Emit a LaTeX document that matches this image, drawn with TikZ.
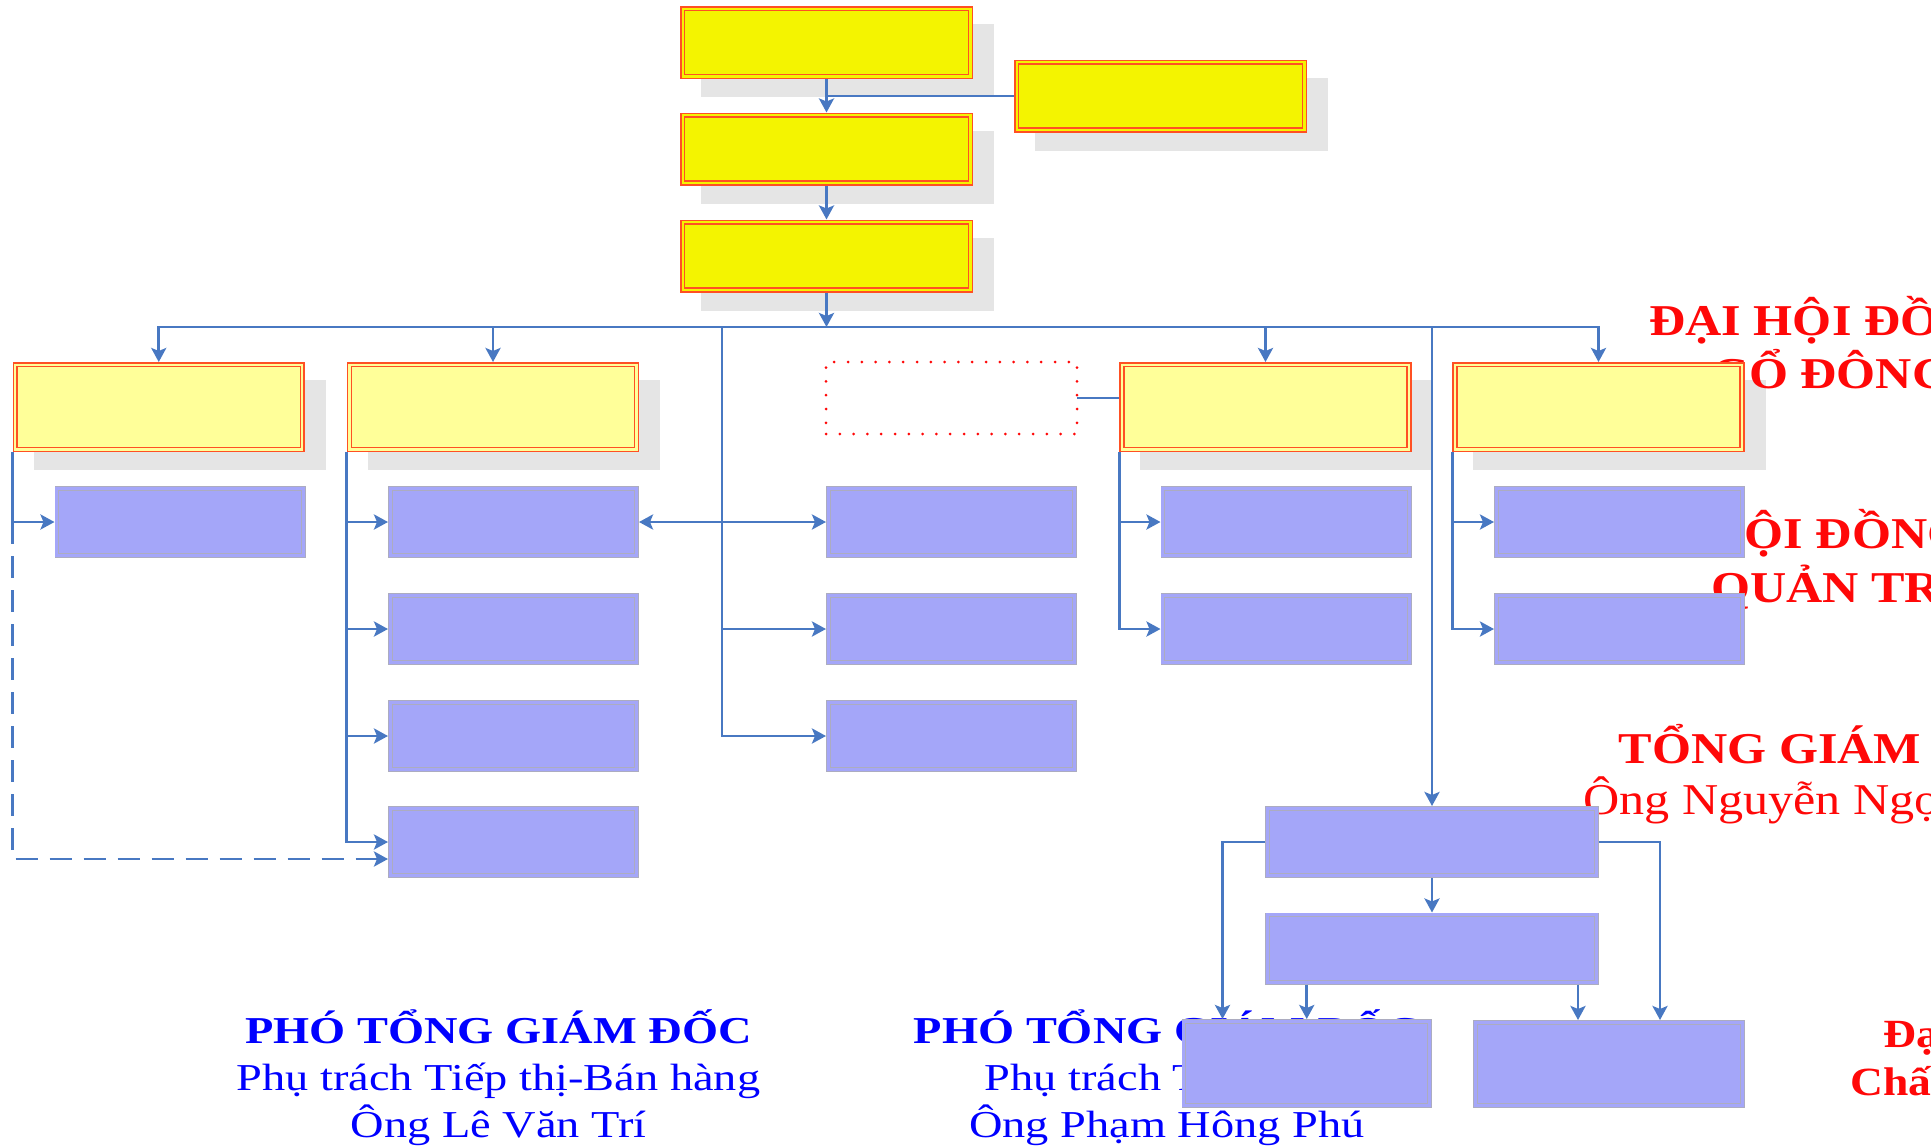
\documentclass[tikz,border=0pt]{standalone}
\usepackage{fontspec}
\setmainfont{Liberation Serif}
\usetikzlibrary{arrows.meta,calc}
\definecolor{byel}{RGB}{244,244,0}
\definecolor{lyel}{RGB}{255,255,153}
\definecolor{bord}{RGB}{255,80,35}
\definecolor{peri}{RGB}{164,166,249}
\definecolor{pgray}{RGB}{172,172,192}
\definecolor{shad}{RGB}{229,229,229}
\definecolor{lnblue}{RGB}{72,120,194}
\definecolor{tblue}{RGB}{0,0,255}
\definecolor{tred}{RGB}{255,8,8}
\pgfdeclarelayer{bg}
\pgfdeclarelayer{txt}
\pgfsetlayers{bg,txt,main}
\begin{document}
\begin{tikzpicture}[x=1pt,y=-1pt,
  >={Stealth[length=14pt,width=15pt,inset=3pt]},
  topbox/.style={draw=bord, line width=1.5pt, double=byel, double distance=2.4pt, fill=byel,
    minimum width=287.6pt, minimum height=67.6pt, inner sep=0pt, outer sep=2.7pt},
  midbox/.style={topbox, double=lyel, fill=lyel, minimum height=84.6pt, minimum width=287pt},
  bluebox/.style={draw=pgray, line width=0.9pt, double=peri, double distance=3pt, fill=peri,
    minimum width=246.2pt, minimum height=67.2pt, inner sep=0pt, outer sep=2.4pt},
  dotbox/.style={draw=tred, line width=3pt, dash pattern=on 0pt off 13.8pt, line cap=round,
    minimum width=251pt, minimum height=72pt, inner sep=0pt, outer sep=0pt},
  connline/.style={draw=lnblue, line width=2.9pt},
  arr/.style={connline, ->},
  dashline/.style={connline, dash pattern=on 22pt off 12pt, ->},
  bluett/.style={text=tblue, font=\fontsize{38pt}{46pt}\selectfont\bfseries, anchor=base, xscale=1.22, inner sep=0pt},
  bluetx/.style={text=tblue, font=\fontsize{38pt}{46pt}\selectfont, anchor=base, xscale=1.22, inner sep=0pt},
  redtt/.style={text=tred, font=\fontsize{44pt}{52pt}\selectfont\bfseries, anchor=base, xscale=1.14, inner sep=0pt},
  redtx/.style={text=tred, font=\fontsize{44pt}{52pt}\selectfont, anchor=base, xscale=1.14, inner sep=0pt}
]
\useasboundingbox (0,0) rectangle (1931,1146);
\clip (0,0) rectangle (1931,1146);

% ---------- boxes ----------
\node[topbox] (T1) at (826.5,42.5) {};
\node[topbox] (TR) at (1160.5,96) {};
\node[topbox] (T2) at (826.5,149) {};
\node[topbox] (T3) at (826.5,256) {};

\node[midbox] (Y1) at (158.75,407) {};
\node[midbox] (Y2) at (493,407) {};
\node[midbox] (Y4) at (1265.5,407) {};
\node[midbox] (Y5) at (1598.5,407) {};
\node[dotbox] (D) at (951.5,398) {};

\node[bluebox] (L1) at (180,522) {};
\node[bluebox] (A1) at (513.5,522) {};
\node[bluebox] (A2) at (513.5,629) {};
\node[bluebox] (A3) at (513.5,736) {};
\node[bluebox] (A4) at (513.5,842) {};
\node[bluebox] (M1) at (951.5,522) {};
\node[bluebox] (M2) at (951.5,629) {};
\node[bluebox] (M3) at (951.5,736) {};
\node[bluebox] (R1) at (1286,522) {};
\node[bluebox] (R2) at (1286,629) {};
\node[bluebox] (S1) at (1619.5,522) {};
\node[bluebox] (S2) at (1619.5,629) {};
\node[bluebox, minimum width=329pt] (G1) at (1432,842) {};
\node[bluebox, minimum width=329pt] (G2) at (1432,948.5) {};
\node[bluebox, minimum width=245.7pt, minimum height=84.2pt] (G3) at (1306.75,1063.5) {};
\node[bluebox, minimum width=266.8pt, minimum height=83.2pt] (G4) at (1609,1064) {};

% ---------- shadows ----------
\begin{pgfonlayer}{bg}
\clip (0,0) rectangle (1931,1146);
\fill[white] (0,0) rectangle (1931,1146);
\foreach \n in {T1,TR,T2,T3,Y1,Y2,Y4,Y5}
  \fill[shad] ($(\n.north west)+(21,18)$) rectangle ($(\n.south east)+(21,18)$);
\end{pgfonlayer}

% ---------- texts ----------
\begin{pgfonlayer}{txt}
\clip (0,0) rectangle (1931,1146);
\node[bluett] (p1a) at (498.5,1043) {PHÓ TỔNG GIÁM ĐỐC};
\node[bluetx] (p1b) at (498.5,1090) {Phụ trách Tiếp thị-Bán hàng};
\node[bluetx] (p1c) at (498.5,1137) {Ông Lê Văn Trí};
\node[bluett] (p2a) at (1167,1043) {PHÓ TỔNG GIÁM ĐỐC};
\node[bluetx] (p2b) at (1167,1090) {Phụ trách Tài chính};
\node[bluetx] (p2c) at (1167,1137) {Ông Phạm Hông Phú};
\node[redtt] (r1a) at (1832,335) {ĐẠI HỘI ĐỒNG};
\node[redtt] (r1b) at (1832,388) {CỔ ĐÔNG};
\node[redtt] (r2a) at (1836,548) {HỘI ĐỒNG};
\node[redtt] (r2b) at (1836,602) {QUẢN TRỊ};
\node[redtt] (r3a) at (1832,763) {TỔNG GIÁM ĐỐC};
\node[redtx, anchor=base west] (r3b) at (1583,814) {Ông Nguyễn Ngọc};
\node[redtt, anchor=base west, font=\fontsize{40pt}{48pt}\selectfont\bfseries] (r4a) at (1883,1047) {Đại diện};
\node[redtt, anchor=base west, font=\fontsize{40pt}{48pt}\selectfont\bfseries] (r4b) at (1850,1095) {Chất lượng};
\end{pgfonlayer}

% ---------- connectors ----------
\coordinate (bus) at (826.5,327);
\coordinate (mx) at (722,327);
\coordinate (gL) at (1222.5,842);
\coordinate (gR) at (1660,842);
\coordinate (g4x) at (1578,990);

\draw[arr] (T1.south) -- (T2.north);
\draw[connline] (TR.west) -- (TR.west -| T1.south);
\draw[arr] (T2.south) -- (T3.north);
\draw[arr] (T3.south) -- (bus);
\draw[connline, <->] (Y1.north) -- (Y1.north |- bus) -- (Y5.north |- bus) -- (Y5.north);
\draw[arr] (bus -| Y2.north) -- (Y2.north);
\draw[arr] (bus -| Y4.north) -- (Y4.north);
\draw[arr] (bus -| G1.north) -- (G1.north);

\draw[arr] (mx) |- (M3.west);
\draw[arr] (mx |- M2.west) -- (M2.west);
\draw[connline, <->] (A1.east) -- (M1.west);

\draw[arr] (Y1.south west) |- (L1.west);
\draw[dashline] (Y1.south west |- L1.west) |- ($(A4.west)+(0,17)$);

\draw[arr] (Y2.south west) |- (A4.west);
\draw[arr] (Y2.south west |- A1.west) -- (A1.west);
\draw[arr] (Y2.south west |- A2.west) -- (A2.west);
\draw[arr] (Y2.south west |- A3.west) -- (A3.west);

\draw[connline] (D.east) -- (D.east -| Y4.west);
\draw[arr] (Y4.south west) |- (R2.west);
\draw[arr] (Y4.south west |- R1.west) -- (R1.west);
\draw[arr] (Y5.south west) |- (S2.west);
\draw[arr] (Y5.south west |- S1.west) -- (S1.west);

\draw[arr] (G1.south) -- (G2.north);
\draw[arr] (G1.west) -| (gL |- G3.north);
\draw[arr] (G1.east) -| (gR |- G4.north);
\draw[arr] (G2.south -| G3.north) -- (G3.north);
\draw[arr] (G2.south -| g4x) -- (G4.north -| g4x);
\end{tikzpicture}
\end{document}
